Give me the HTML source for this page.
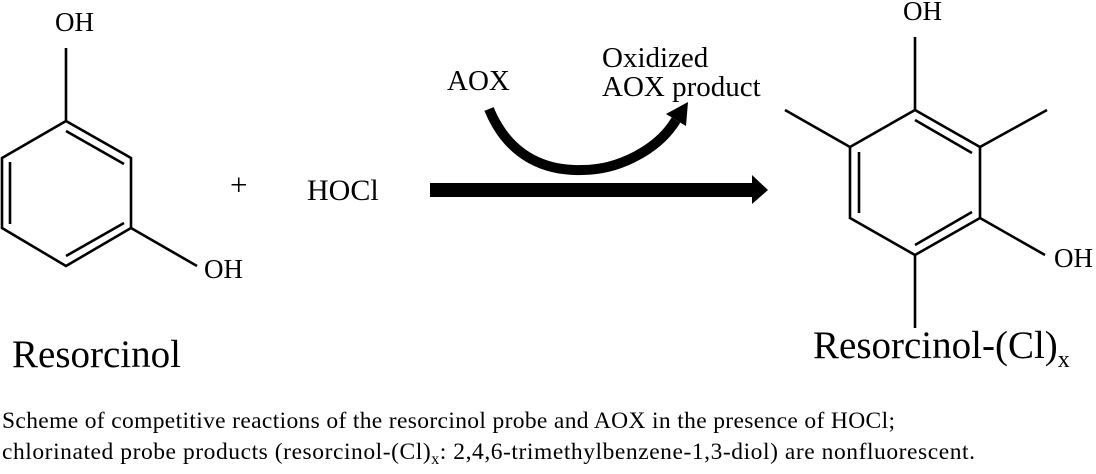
<!DOCTYPE html>
<html><head><meta charset="utf-8"><style>
html,body{margin:0;padding:0;background:#fff;}
svg{display:block;}
text{font-family:"Liberation Serif",serif;fill:#000;}
</style></head><body>
<svg width="1096" height="474" viewBox="0 0 1096 474" xmlns="http://www.w3.org/2000/svg">
<g stroke="#000" stroke-width="2.6" fill="none" stroke-linecap="butt">
<polygon points="66,121 131,158 131,228 66,266 2,228 2,158"/>
<line x1="66" y1="48" x2="66" y2="121"/>
<line x1="131" y1="228" x2="197" y2="266"/>
<line x1="10" y1="162" x2="10" y2="224"/>
<line x1="66" y1="131" x2="124" y2="164"/>
<line x1="66" y1="256" x2="124" y2="223"/>
<polygon points="915,110 980,147 980,218 915,255 850,218 850,147"/>
<line x1="915" y1="37" x2="915" y2="110"/>
<line x1="850" y1="147" x2="785" y2="110"/>
<line x1="980" y1="147" x2="1047" y2="110"/>
<line x1="980" y1="218" x2="1045" y2="255"/>
<line x1="915" y1="255" x2="915" y2="328"/>
<line x1="859" y1="152" x2="859" y2="213"/>
<line x1="915" y1="120" x2="972" y2="153"/>
<line x1="915" y1="245" x2="972" y2="212"/>
<path d="M489,109 C510,160 550,171 582,170 C618,170 658,150 676,120" stroke-width="10"/>
</g>
<polygon points="666,114 688,102 686,126" fill="#000"/>
<polygon points="430,183 752,183 752,175 768,190 752,204 752,197 430,197" fill="#000"/>
<text x="55" y="31" font-size="27">OH</text>
<text x="204" y="278" font-size="27">OH</text>
<text x="230" y="195" font-size="31">+</text>
<text x="307" y="200" font-size="30">HOCl</text>
<text x="447" y="90" font-size="29">AOX</text>
<text x="602" y="67" font-size="29">Oxidized</text>
<text x="602" y="96" font-size="29">AOX product</text>
<text x="903" y="20" font-size="27">OH</text>
<text x="1054" y="267" font-size="27">OH</text>
<text x="12" y="367" font-size="39">Resorcinol</text>
<text x="813" y="358" font-size="39">Resorcinol-(Cl)<tspan font-size="24" dy="9">x</tspan></text>
<text x="2" y="428" font-size="23.5" textLength="893" lengthAdjust="spacing">Scheme of competitive reactions of the resorcinol probe and AOX in the presence of HOCl;</text>
<text x="2" y="459" font-size="23.5" textLength="973" lengthAdjust="spacing">chlorinated probe products (resorcinol-(Cl)<tspan font-size="16" dy="5">x</tspan><tspan dy="-5">: 2,4,6-trimethylbenzene-1,3-diol) are nonfluorescent.</tspan></text>
</svg>
</body></html>
